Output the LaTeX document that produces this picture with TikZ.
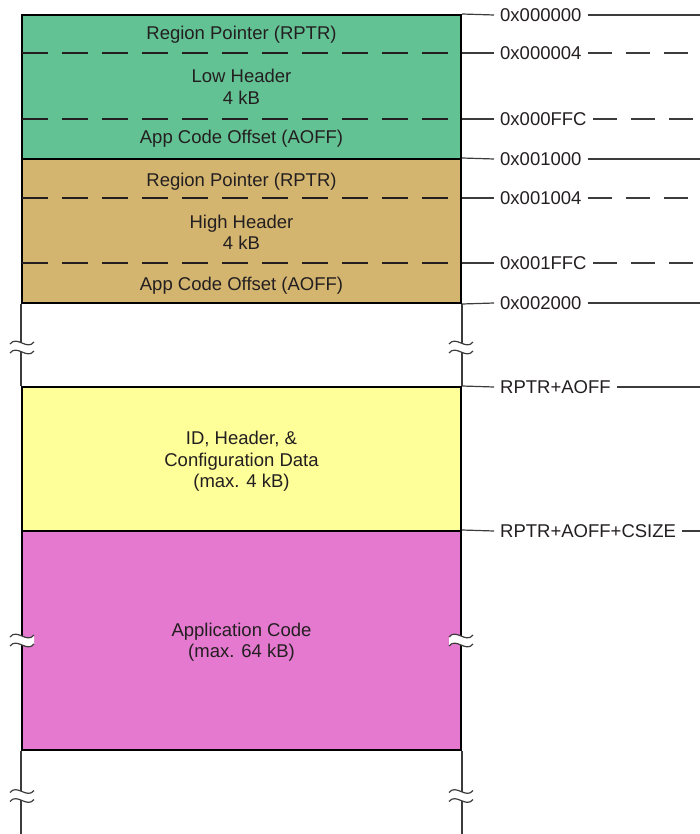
\documentclass[tikz,border=0pt]{standalone}
\usepackage{fontspec}
\setmainfont{Liberation Sans}
\usepackage{xcolor}
\usetikzlibrary{positioning}
\definecolor{lowgreen}{RGB}{99,194,148}
\definecolor{hightan}{RGB}{212,181,112}
\definecolor{cfgyellow}{RGB}{255,255,153}
\definecolor{appmagenta}{RGB}{228,121,207}
\definecolor{memtext}{RGB}{35,31,32}
\definecolor{memline}{RGB}{60,60,60}
\newcommand{\memfont}{\fontsize{18.5}{21.5}\selectfont}
\tikzset{
  membox/.style={draw, line width=2pt, inner sep=0pt, minimum width=439pt},
  memlabel/.style={align=center, inner sep=0pt, text=memtext, font=\memfont},
  memsplit/.style={line width=1.3pt, draw=memtext, dash pattern=on 26pt off 14pt},
  memaddr/.style={anchor=west, inner xsep=6pt, inner ysep=0pt, text height=17.2pt, text depth=4pt, text=memtext, font=\memfont},
  memtick/.style={line width=1.2pt, draw=memline},
  memtickdash/.style={line width=1.2pt, draw=memline, dash pattern=on 24pt off 14pt},
  memrail/.style={line width=1.6pt, draw=memline},
  memwave/.style={line width=1.2pt, draw=memline}
}
\newcommand{\memcut}[2]{%
  \begin{scope}[shift={(#1,#2)}]
    \fill[white] (-12,-3.5) .. controls (-5,-12.5) and (5,3.5) .. (12,-5.5) -- (12,3.5) .. controls (5,12.5) and (-5,-3.5) .. (-12,5.5) -- cycle;
    \draw[memwave] (-12,-3.5) .. controls (-5,-12.5) and (5,3.5) .. (12,-5.5);
    \draw[memwave] (-12,5.5) .. controls (-5,-3.5) and (5,12.5) .. (12,3.5);
  \end{scope}}

\begin{document}
\begin{tikzpicture}[x=1pt, y=-1pt]
\useasboundingbox (0,0) rectangle (700,834);
\coordinate (rim) at (700,0);
\coordinate (floor) at (0,834);

\node[membox, fill=lowgreen, minimum height=144pt] (low) at (241.5,87) {};
\node[membox, fill=hightan, minimum height=144pt] (high) at (241.5,231) {};
\node[membox, fill=cfgyellow, minimum height=144pt] (cfg) at (241.5,459) {};
\node[membox, fill=appmagenta, minimum height=219pt] (app) at (241.5,640.5) {};

\draw[memsplit] (22,53) -- (461,53);
\draw[memsplit] (22,119) -- (461,119);
\draw[memsplit] (22,198) -- (461,198);
\draw[memsplit] (22,263) -- (461,263);

\node[memlabel] (lowrptr) at (241.5,35) {Region Pointer (RPTR)};
\node[memlabel] (lowhdr) at (241.5,87) {Low Header\\4 kB};
\node[memlabel] (lowaoff) at (241.5,139) {App Code Offset (AOFF)};
\node[memlabel] (highrptr) at (241.5,182) {Region Pointer (RPTR)};
\node[memlabel] (highhdr) at (241.5,232.5) {High Header\\4 kB};
\node[memlabel] (highaoff) at (241.5,285.5) {App Code Offset (AOFF)};
\node[memlabel] (cfgtxt) at (241.5,461.5) {ID, Header, \&\\Configuration Data\\(max. 4 kB)};
\node[memlabel] (apptxt) at (241.5,642) {Application Code\\(max. 64 kB)};

\draw[memrail] (high.south west) -- (cfg.north west);
\draw[memrail] (high.south east) -- (cfg.north east);
\draw[memrail] (app.south west) -- (app.south west |- floor);
\draw[memrail] (app.south east) -- (app.south east |- floor);

\node[memaddr] (adr0) at (494,15) {0x000000};
\node[memaddr] (adr4) at (494,53) {0x000004};
\node[memaddr] (adrffc) at (494,119) {0x000FFC};
\node[memaddr] (adr1000) at (494,159) {0x001000};
\node[memaddr] (adr1004) at (494,198) {0x001004};
\node[memaddr] (adr1ffc) at (494,263) {0x001FFC};
\node[memaddr] (adr2000) at (494,303) {0x002000};
\node[memaddr] (adrcfg) at (494,387) {RPTR+AOFF};
\node[memaddr] (adrapp) at (494,531) {RPTR+AOFF+CSIZE};

\draw[memtick] (low.north east) -- (adr0.west);
\draw[memtick] (adr0.east) -- (adr0.east -| rim);
\draw[memtick] (low.east |- adr4) -- (adr4.west);
\draw[memtickdash] (adr4.east) -- (adr4.east -| rim);
\draw[memtick] (low.east |- adrffc) -- (adrffc.west);
\draw[memtickdash] (adrffc.east) -- (adrffc.east -| rim);
\draw[memtick] (high.north east) -- (adr1000.west);
\draw[memtick] (adr1000.east) -- (adr1000.east -| rim);
\draw[memtick] (high.east |- adr1004) -- (adr1004.west);
\draw[memtickdash] (adr1004.east) -- (adr1004.east -| rim);
\draw[memtick] (high.east |- adr1ffc) -- (adr1ffc.west);
\draw[memtickdash] (adr1ffc.east) -- (adr1ffc.east -| rim);
\draw[memtick] (high.south east) -- (adr2000.west);
\draw[memtick] (adr2000.east) -- (adr2000.east -| rim);
\draw[memtick] (cfg.north east) -- (adrcfg.west);
\draw[memtick] (adrcfg.east) -- (adrcfg.east -| rim);
\draw[memtick] (app.north east) -- (adrapp.west);
\draw[memtick] (adrapp.east) -- (adrapp.east -| rim);

\memcut{22}{347.5}
\memcut{461}{347.5}
\memcut{22}{640.5}
\memcut{461}{640.5}
\memcut{22}{796}
\memcut{461}{796}
\end{tikzpicture}
\end{document}
